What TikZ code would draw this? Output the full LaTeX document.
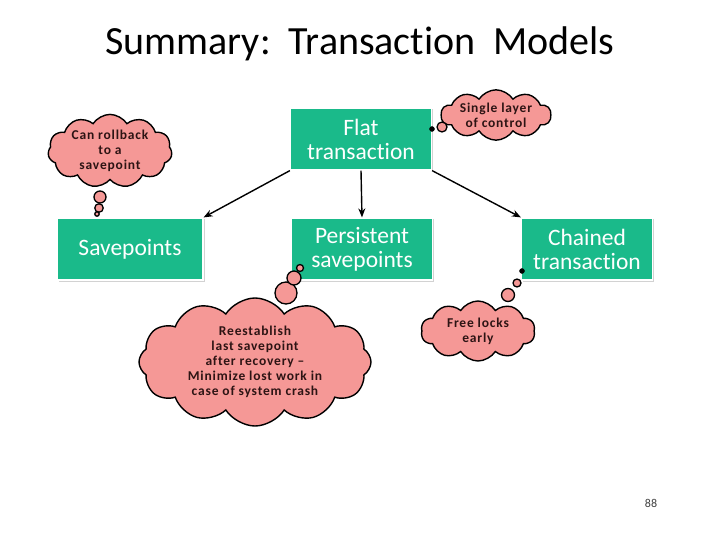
\documentclass[tikz,border=0pt]{standalone}
\usepackage{fontspec}
\setmainfont{Carlito}[Ligatures={NoCommon,NoRare}]
\newfontfamily\cloudfont{Carlito}[Ligatures={NoCommon,NoRare},LetterSpace=6]
\usetikzlibrary{shapes.symbols,shadows,arrows.meta}
\definecolor{boxteal}{RGB}{26,186,138}
\definecolor{cloudpink}{RGB}{245,152,150}
\definecolor{cloudtext}{RGB}{45,20,20}
\tikzset{
  tbox/.style={rectangle, fill=boxteal, text=white, draw=white, line width=1.2pt,
    align=center, inner sep=2pt, minimum height=62pt,
    font=\fontsize{23.5}{24}\selectfont,
    drop shadow={shadow xshift=1.5pt, shadow yshift=-1.5pt, fill=black!35}},
  thought/.style={cloud, cloud puffs=11, cloud puff arc=115, cloud ignores aspect,
    draw=black, line width=1.4pt,
    fill=cloudpink, text=cloudtext, align=center, inner sep=0pt,
    font=\cloudfont\bfseries\fontsize{13.5}{15}\selectfont},
  bubble/.style={circle, draw=black, line width=1.3pt, fill=cloudpink, inner sep=0pt},
  dotb/.style={circle, draw=black, fill=black, inner sep=0pt},
  arr/.style={-{Stealth[length=9pt,width=7pt]}, line width=1.4pt, black}
}
\begin{document}
\begin{tikzpicture}[x=1pt,y=-1pt]
\useasboundingbox (0,0) rectangle (720,540);
\node[font=\fontsize{40}{44}\selectfont] (title) at (360,44) {Summary:\ \ Transaction\ \ Models};

\node[tbox, minimum width=141pt] (flat) at (361,139) {Flat\\transaction};
\node[tbox, minimum width=146pt] (save) at (130,249) {Savepoints};
\node[tbox, minimum width=141pt] (pers) at (362,249) {Persistent\\savepoints};
\node[tbox, minimum width=131pt] (chain) at (587,249) {Chained\\transaction};

\draw[arr] (flat.south west) -- (save.north east);
\draw[arr] (flat.south) -- (pers.north);
\draw[arr] (flat.south east) -- (chain.north west);

% cloud: rollback
\node[thought, minimum width=124pt, minimum height=68pt] (c1) at (110,151) {Can rollback\\to a\\savepoint};
\node[bubble, minimum size=12pt] (c1b1) at (100,197) {};
\node[bubble, minimum size=8.5pt] (c1b2) at (99,208) {};
\node[bubble, minimum size=4.5pt] (c1b3) at (97,214) {};

% cloud: single layer
\node[thought, cloud puffs=10, minimum width=110pt, minimum height=48pt] (c2) at (496,115) {Single layer\\of control};
\node[bubble, minimum size=10pt] (c2b1) at (442,127) {};
\node[dotb, minimum size=5pt] (c2b2) at (432,129) {};

% cloud: reestablish
\node[thought, cloud puffs=12, minimum width=232pt, minimum height=128pt] (c3) at (255,362) {Reestablish\\last savepoint\\after recovery –\\Minimize lost work in\\case of system crash};
\node[bubble, minimum size=22pt] (c3b1) at (286,293) {};
\node[bubble, minimum size=14pt] (c3b2) at (294,278) {};
\node[bubble, minimum size=7pt] (c3b3) at (300,268) {};

% cloud: free locks
\node[thought, cloud puffs=10, minimum width=114pt, minimum height=60pt] (c4) at (478,331) {Free locks\\early};
\node[bubble, minimum size=13pt] (c4b1) at (508,295) {};
\node[bubble, minimum size=8pt] (c4b2) at (517,283) {};
\node[dotb, minimum size=5pt] (c4b3) at (522,271) {};

\node[font=\fontsize{12}{14}\selectfont, text=black!75] (page) at (651,503) {88};
\end{tikzpicture}
\end{document}
